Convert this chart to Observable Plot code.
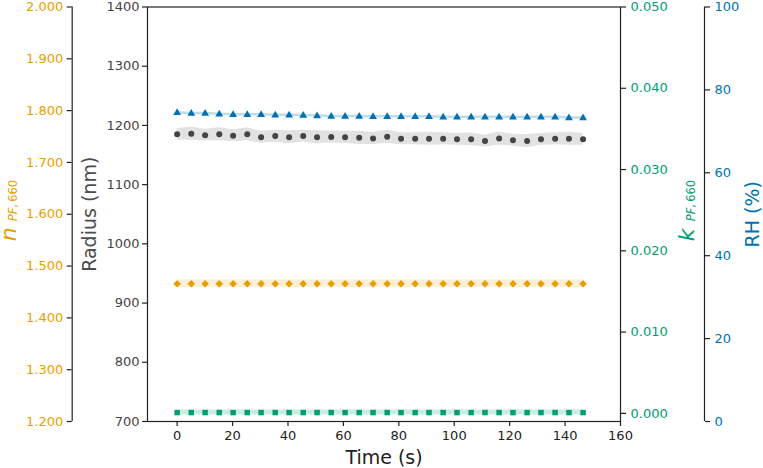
<!DOCTYPE html>
<html>
<head>
<meta charset="utf-8">
<script src="https://cdn.jsdelivr.net/npm/d3@7"></script>
<script src="https://cdn.jsdelivr.net/npm/@observablehq/plot@0.6"></script>
<style>
  body { margin: 0; background: #fff; }
  #chart { position: relative; width: 763px; height: 468px; font-family: "DejaVu Sans", sans-serif; }
  #chart svg { position: absolute; left: 0; top: 0; overflow: visible; background: transparent !important; }
</style>
</head>
<body>
<div id="chart"></div>
<script>
// Measurement times (s)
const time = [0, 5.1, 10.1, 15.2, 20.2, 25.3, 30.3, 35.4, 40.4, 45.5, 50.5, 55.6, 60.6, 65.7, 70.7,
              75.8, 80.8, 85.9, 90.9, 96.0, 101.0, 106.1, 111.1, 116.2, 121.2, 126.3, 131.3, 136.4, 141.4, 146.5];
// Retrieved particle radius (nm) and its uncertainty
const radius = [1185, 1186, 1183.5, 1185, 1182.5, 1185, 1180, 1182, 1180, 1182, 1180, 1180.5, 1180, 1179, 1178,
                1181, 1177.5, 1177.5, 1177.5, 1177.5, 1176.5, 1176.5, 1173.5, 1178, 1175, 1173.5, 1176.5, 1177.5, 1177.5, 1176.5];
const radiusErr = [10, 11, 10, 11, 10, 11, 10, 10, 11, 10, 11, 10, 10, 11, 10,
                   11, 10, 10, 11, 10, 10, 11, 10, 11, 10, 11, 10, 10, 11, 10];
// Real part of the refractive index at 660 nm
const nPF = [1.466, 1.466, 1.466, 1.466, 1.466, 1.466, 1.466, 1.466, 1.466, 1.466, 1.466, 1.466, 1.466, 1.466, 1.466,
             1.466, 1.466, 1.466, 1.466, 1.466, 1.466, 1.466, 1.466, 1.466, 1.466, 1.466, 1.466, 1.466, 1.466, 1.466];
const nErr = 0.0075;
// Imaginary part of the refractive index at 660 nm
const kPF = [0.0001, 0.0001, 0.0001, 0.0001, 0.0001, 0.0001, 0.0001, 0.0001, 0.0001, 0.0001, 0.0001, 0.0001, 0.0001, 0.0001, 0.0001,
             0.0001, 0.0001, 0.0001, 0.0001, 0.0001, 0.0001, 0.0001, 0.0001, 0.0001, 0.0001, 0.0001, 0.0001, 0.0001, 0.0001, 0.0001];
const kErr = 0.0003;
// Relative humidity (%)
const rh = [74.5, 74.3, 74.3, 74.1, 74.0, 74.0, 74.0, 73.9, 73.9, 73.8, 73.7, 73.6, 73.6, 73.6, 73.5,
            73.5, 73.5, 73.5, 73.5, 73.4, 73.4, 73.4, 73.4, 73.4, 73.4, 73.4, 73.4, 73.4, 73.2, 73.2];
const rhErr = 0.3;

// Tick values
const xTicks = [0, 20, 40, 60, 80, 100, 120, 140, 160];
const radiusTicks = [700, 800, 900, 1000, 1100, 1200, 1300, 1400];
const nTicks = [1.2, 1.3, 1.4, 1.5, 1.6, 1.7, 1.8, 1.9, 2.0];
const kTicks = [0, 0.01, 0.02, 0.03, 0.04, 0.05];
const rhTicks = [0, 20, 40, 60, 80, 100];

const rows = time.map((t, i) => ({t, r: radius[i], re: radiusErr[i], n: nPF[i], k: kPF[i], rh: rh[i]}));

const ORANGE = "#E69F00", GREEN = "#009E73", BLUE = "#0072B2", GREY = "#444444", INK = "#222222";
const W = 763, H = 468, MT = 6.5, MB = 47, ML = 147, MR = 143;
const FONT = "DejaVu Sans, sans-serif";
const xDomain = [-10.7, 160];

const base = {
  width: W, height: H, marginTop: MT, marginBottom: MB,
  style: {background: "transparent", fontFamily: FONT, fontSize: "13px", overflow: "visible"}
};

// Rotated axis-title piece
function rlabel(str, o) {
  return Plot.text([str], {
    text: d => d, frameAnchor: o.anchor, rotate: -90, textAnchor: o.textAnchor || "middle",
    lineAnchor: "bottom", dx: o.dx, dy: o.dy || 0, fontSize: o.size, fill: o.fill,
    fontStyle: o.italic ? "italic" : "normal", fontFamily: FONT
  });
}

// Mathtext-style title: italic symbol with an italic "PF" and upright ",660" subscript
function symbolLabel(sym, anchor, baseDx, color) {
  return [
    rlabel(sym, {anchor, textAnchor: "start", dx: baseDx, dy: 27, size: 22, fill: color, italic: true}),
    rlabel("PF", {anchor, textAnchor: "start", dx: baseDx + 1, dy: 7, size: 11.5, fill: color, italic: true}),
    rlabel(",\u2009660", {anchor, textAnchor: "start", dx: baseDx + 1, dy: -6.5, size: 11.5, fill: color})
  ];
}

const tickOpts = {tickSize: 5, stroke: INK, strokeWidth: 1.2, label: null, fontSize: 13};

// Radius panel: frame, time axis, radius axis
const main = Plot.plot({
  ...base, marginLeft: ML, marginRight: MR,
  x: {domain: xDomain}, y: {domain: [700, 1400]},
  marks: [
    Plot.areaY(rows, {x: "t", y1: d => d.r - d.re, y2: d => d.r + d.re, fill: "#e2e2e2"}),
    Plot.dot(rows, {x: "t", y: "r", r: 3.0, fill: GREY, symbol: "circle"}),
    Plot.frame({stroke: INK, strokeWidth: 1.2}),
    Plot.axisX({...tickOpts, anchor: "bottom", ticks: xTicks, tickFormat: "d", tickPadding: 4, fill: INK}),
    Plot.axisY({...tickOpts, anchor: "left", ticks: radiusTicks, tickFormat: "d", tickPadding: 3, fill: GREY}),
    rlabel("Radius (nm)", {anchor: "left", dx: -52, size: 19, fill: "#4d4d4d"}),
    Plot.text(["Time (s)"], {text: d => d, frameAnchor: "bottom", dy: 42, lineAnchor: "bottom",
      fontSize: 19, fill: INK, fontFamily: FONT})
  ]
});

// Real refractive index series
const nLayer = Plot.plot({
  ...base, marginLeft: ML, marginRight: MR,
  x: {domain: xDomain, axis: null}, y: {domain: [1.2, 2.0], axis: null},
  marks: [
    Plot.areaY(rows, {x: "t", y1: d => d.n - nErr, y2: d => d.n + nErr, fill: ORANGE, fillOpacity: 0.16}),
    Plot.dot(rows, {x: "t", y: "n", r: 3.4, fill: ORANGE, symbol: "diamond2"})
  ]
});

// Imaginary refractive index series with its right-hand axis
const kLayer = Plot.plot({
  ...base, marginLeft: ML, marginRight: MR,
  x: {domain: xDomain, axis: null}, y: {domain: [-0.001, 0.05]},
  marks: [
    Plot.areaY(rows, {x: "t", y1: d => d.k - kErr, y2: d => d.k + kErr, fill: GREEN, fillOpacity: 0.2}),
    Plot.dot(rows, {x: "t", y: "k", r: 3.1, fill: GREEN, symbol: "square"}),
    Plot.axisY({...tickOpts, anchor: "right", ticks: kTicks, tickFormat: ".3f", tickPadding: 5, fill: GREEN}),
    ...symbolLabel("k", "right", 73, GREEN)
  ]
});

// Relative humidity series
const rhLayer = Plot.plot({
  ...base, marginLeft: ML, marginRight: MR,
  x: {domain: xDomain, axis: null}, y: {domain: [0, 100], axis: null},
  marks: [
    Plot.areaY(rows, {x: "t", y1: d => d.rh - rhErr, y2: d => d.rh + rhErr, fill: BLUE, fillOpacity: 0.25}),
    Plot.dot(rows, {x: "t", y: "rh", r: 2.9, fill: BLUE, symbol: "triangle"})
  ]
});

// Outer left axis for n
const nAxis = Plot.plot({
  ...base, marginLeft: 71.7, marginRight: W - 71.7 - 20,
  x: {domain: [0, 1], axis: null}, y: {domain: [1.2, 2.0]},
  marks: [
    Plot.ruleX([0], {stroke: INK, strokeWidth: 1.2}),
    Plot.axisY({...tickOpts, anchor: "left", ticks: nTicks, tickFormat: ".3f", tickPadding: 4, fill: ORANGE}),
    ...symbolLabel("n", "left", -55.7, ORANGE)
  ]
});

// Outer right axis for RH
const rhAxis = Plot.plot({
  ...base, marginLeft: 704 - 20, marginRight: W - 704,
  x: {domain: [0, 1], axis: null}, y: {domain: [0, 100]},
  marks: [
    Plot.ruleX([1], {stroke: INK, strokeWidth: 1.2}),
    Plot.axisY({...tickOpts, anchor: "right", ticks: rhTicks, tickFormat: "d", tickPadding: 5, fill: BLUE}),
    rlabel("RH (%)", {anchor: "right", dx: 54, size: 19, fill: BLUE})
  ]
});

const chart = document.getElementById("chart");
[main, nLayer, kLayer, rhLayer, nAxis, rhAxis].forEach(svg => chart.appendChild(svg));
</script>
</body>
</html>
